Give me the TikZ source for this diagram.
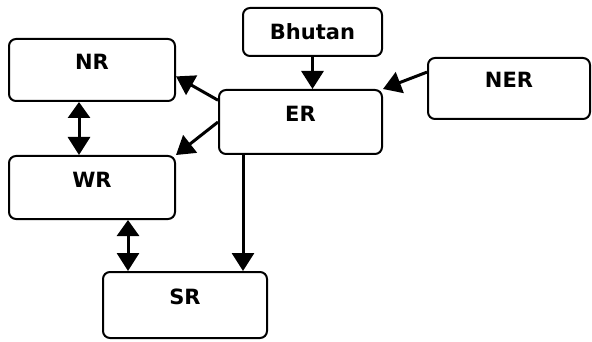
\documentclass[tikz,border=0pt]{standalone}
\usepackage{fontspec}
\setmainfont{DejaVu Sans}
\usetikzlibrary{calc,arrows.meta}
\tikzset{
	region/.style={draw, line width=2pt, rounded corners=7pt, inner sep=0pt,
		font=\bfseries\fontsize{21}{25}\selectfont, text height=15pt, text depth=16pt},
	flow/.style={line width=3pt, -{Triangle[length=18pt,width=22pt]}},
	twoway/.style={line width=3pt, {Triangle[length=16pt,width=22pt]}-{Triangle[length=18pt,width=22pt]}}
}

\begin{document}
\begin{tikzpicture}[x=1pt, y=-1pt]
			%%%%% START %%%%%
			\useasboundingbox (0, 0) rectangle (592, 342);
			
			\node[region, minimum width=166pt, minimum height=62pt] (nr) at (92, 70) {NR};
			\node[region, minimum width=166pt, minimum height=63pt] (wr) at (92, 187.5) {WR};
			\node[region, minimum width=164pt, minimum height=66pt] (sr) at (185, 305) {SR};
			\node[region, minimum width=139pt, minimum height=48pt, text depth=0pt] (bhutan) at (312.5, 32) {Bhutan};
			\node[region, minimum width=163pt, minimum height=64pt] (er) at (300.5, 122) {ER};
			\node[region, minimum width=162pt, minimum height=61pt] (ner) at (509, 88.5) {NER};
			
			\coordinate (erfoot) at ($(er.south west)+(25, 0)$);
			\coordinate (nrfoot) at ($(nr.south)+(-13, 0)$);
			\coordinate (srhead) at ($(sr.north west)+(26, 0)$);
			
			\draw[flow] (bhutan.south) -- (bhutan.south |- er.north);
			\draw[flow] (erfoot) -- (erfoot |- sr.north);
			\draw[flow] ($(er.north west)!0.17!(er.south west)$) -- ($(nr.north east)!0.6!(nr.south east)$);
			\draw[flow] (er.west) -- (wr.north east);
			\draw[flow] ($(ner.north west)!0.24!(ner.south west)$) -- (er.north east);
			
			\draw[twoway] (nrfoot) -- (nrfoot |- wr.north);
			\draw[twoway] (wr.south -| srhead) -- (srhead);
			
			%%%%% END %%%%%
\end{tikzpicture}
\end{document}
